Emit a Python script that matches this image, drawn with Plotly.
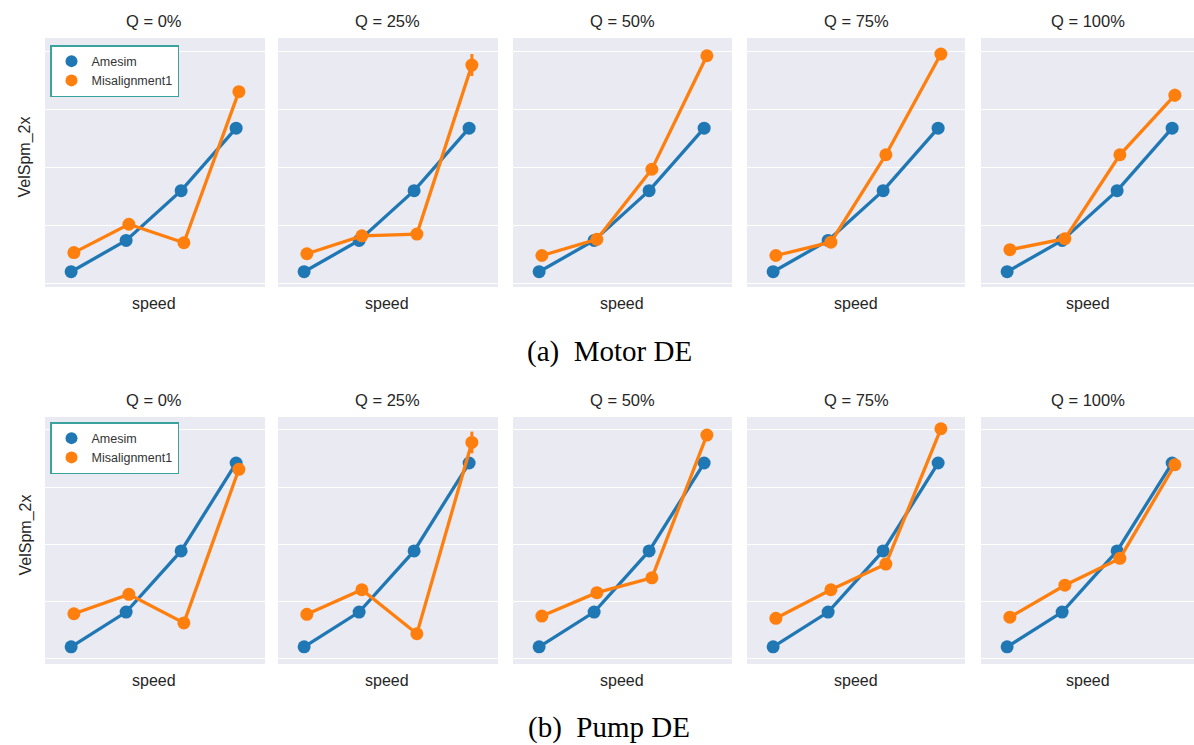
import plotly.graph_objects as go

# ---------------- data ----------------
q_titles = ["Q = 0%", "Q = 25%", "Q = 50%", "Q = 75%", "Q = 100%"]
speed_idx = [0, 1, 2, 3]
series_names = ["Amesim", "Misalignment1"]

motor_amesim = [0.20, 0.74, 1.60, 2.68]
motor_mis = [
    [0.53, 1.02, 0.70, 3.31],
    [0.51, 0.82, 0.85, 3.77],
    [0.48, 0.76, 1.97, 3.93],
    [0.48, 0.71, 2.22, 3.96],
    [0.58, 0.77, 2.22, 3.25],
]
motor_mis_err = [
    [0, 0, 0, 0],
    [0, 0, 0, 0.19],
    [0, 0, 0, 0],
    [0, 0, 0, 0],
    [0, 0, 0, 0.11],
]

pump_amesim = [0.20, 0.81, 1.88, 3.42]
pump_mis = [
    [0.78, 1.12, 0.62, 3.31],
    [0.77, 1.20, 0.43, 3.78],
    [0.74, 1.15, 1.41, 3.91],
    [0.70, 1.20, 1.65, 4.02],
    [0.72, 1.28, 1.75, 3.39],
]
pump_mis_err = [
    [0, 0, 0, 0],
    [0, 0, 0, 0.19],
    [0, 0, 0, 0],
    [0, 0, 0, 0],
    [0, 0, 0, 0.06],
]

captions = ["(a)\u00a0\u00a0Motor DE", "(b)\u00a0\u00a0Pump DE"]
y_label = "VelSpm_2x"
x_label = "speed"

# ---------------- style ----------------
W, H = 1194, 745
BLUE = "#1f77b4"
ORANGE = "#ff7f0e"
BG = "#EAEAF2"
TXT = "#262626"
FONT = "Liberation Sans, Arial, sans-serif"
SERIF = "Liberation Serif, Times New Roman, serif"

col_px = [(45, 265), (278, 498), (513, 732), (747, 965), (981, 1194)]
row_px = [(38, 287), (417, 664)]
row_yrange = [(-0.064, 4.237), (-0.10, 4.226)]
DODGE = 0.025
PX_PER_CAT = 55.0

fig = go.Figure()
layout = dict(
    width=W, height=H,
    margin=dict(l=0, r=0, t=0, b=0),
    paper_bgcolor="white", plot_bgcolor=BG,
    showlegend=True,
)
annotations = []

rows = [(motor_amesim, motor_mis, motor_mis_err), (pump_amesim, pump_mis, pump_mis_err)]

ax_n = 0
for r, (amesim, mis, mis_err) in enumerate(rows):
    y0px, y1px = row_px[r]
    for c in range(5):
        ax_n += 1
        xa = "xaxis" if ax_n == 1 else f"xaxis{ax_n}"
        ya = "yaxis" if ax_n == 1 else f"yaxis{ax_n}"
        xref = "x" if ax_n == 1 else f"x{ax_n}"
        yref = "y" if ax_n == 1 else f"y{ax_n}"
        x0px, x1px = col_px[c]
        xr_hi = -0.5 + (x1px - x0px) / PX_PER_CAT
        layout[xa] = dict(
            domain=[x0px / W, x1px / W], anchor=yref,
            range=[-0.5, xr_hi], showgrid=False, zeroline=False,
            showticklabels=False, ticks="", showline=False, fixedrange=True,
        )
        layout[ya] = dict(
            domain=[1 - y1px / H, 1 - y0px / H], anchor=xref,
            range=list(row_yrange[r]), showgrid=True, gridcolor="white",
            gridwidth=1.3, dtick=1, tick0=0, zeroline=False,
            showticklabels=False, ticks="", showline=False, fixedrange=True,
        )
        fig.add_trace(go.Scatter(
            x=[i - DODGE for i in speed_idx], y=amesim, xaxis=xref, yaxis=yref,
            mode="lines+markers", line=dict(color=BLUE, width=3.3),
            marker=dict(color=BLUE, size=13), showlegend=False,
            name=series_names[0],
        ))
        fig.add_trace(go.Scatter(
            x=[i + DODGE for i in speed_idx], y=mis[c], xaxis=xref, yaxis=yref,
            mode="lines+markers", line=dict(color=ORANGE, width=3.3),
            marker=dict(color=ORANGE, size=13), showlegend=False,
            name=series_names[1],
            error_y=dict(type="data", array=mis_err[c], visible=True,
                         color=ORANGE, thickness=3, width=0),
        ))
        cx = (x0px + min(x1px, x0px + 218)) / 2 / W
        annotations.append(dict(
            text=q_titles[c], x=cx, y=1 - (y0px - 17) / H, xref="paper", yref="paper",
            showarrow=False, font=dict(family=FONT, size=16.5, color=TXT),
            xanchor="center", yanchor="middle",
        ))
        annotations.append(dict(
            text=x_label, x=cx, y=1 - (y1px + 16) / H, xref="paper", yref="paper",
            showarrow=False, font=dict(family=FONT, size=16, color=TXT),
            xanchor="center", yanchor="middle",
        ))
    annotations.append(dict(
        text=y_label, x=25 / W, y=1 - ((y0px + y1px) / 2 - 5) / H,
        xref="paper", yref="paper", showarrow=False, textangle=-90,
        font=dict(family=FONT, size=16, color=TXT),
        xanchor="center", yanchor="middle",
    ))

for cap, cy in zip(captions, [352, 727]):
    annotations.append(dict(
        text=cap, x=609 / W, y=1 - cy / H, xref="paper", yref="paper",
        showarrow=False, font=dict(family=SERIF, size=29, color="black"),
        xanchor="center", yanchor="middle",
    ))

# legend entries (markers only)
for lg in ["legend", "legend2"]:
    for name, col in zip(series_names, [BLUE, ORANGE]):
        fig.add_trace(go.Scatter(
            x=[None], y=[None], mode="markers", name=name,
            marker=dict(color=col, size=12), legend=lg, showlegend=True,
            xaxis="x", yaxis="y",
        ))

leg_common = dict(
    bgcolor="white", bordercolor="#3aa39e", borderwidth=1.5,
    font=dict(family=FONT, size=12.5, color="#333333"),
    xanchor="left", yanchor="top", traceorder="normal",
    itemsizing="constant", tracegroupgap=0,
    entrywidth=118, entrywidthmode="pixels",
)
layout["legend"] = dict(x=50 / W, y=1 - 45 / H, **leg_common)
layout["legend2"] = dict(x=50 / W, y=1 - 422 / H, **leg_common)
layout["annotations"] = annotations

fig.update_layout(**layout)
fig.write_html(
    "out.html",
    config={"displayModeBar": False},
    post_script="document.body.style.margin='0';document.body.style.overflow='hidden';",
)
